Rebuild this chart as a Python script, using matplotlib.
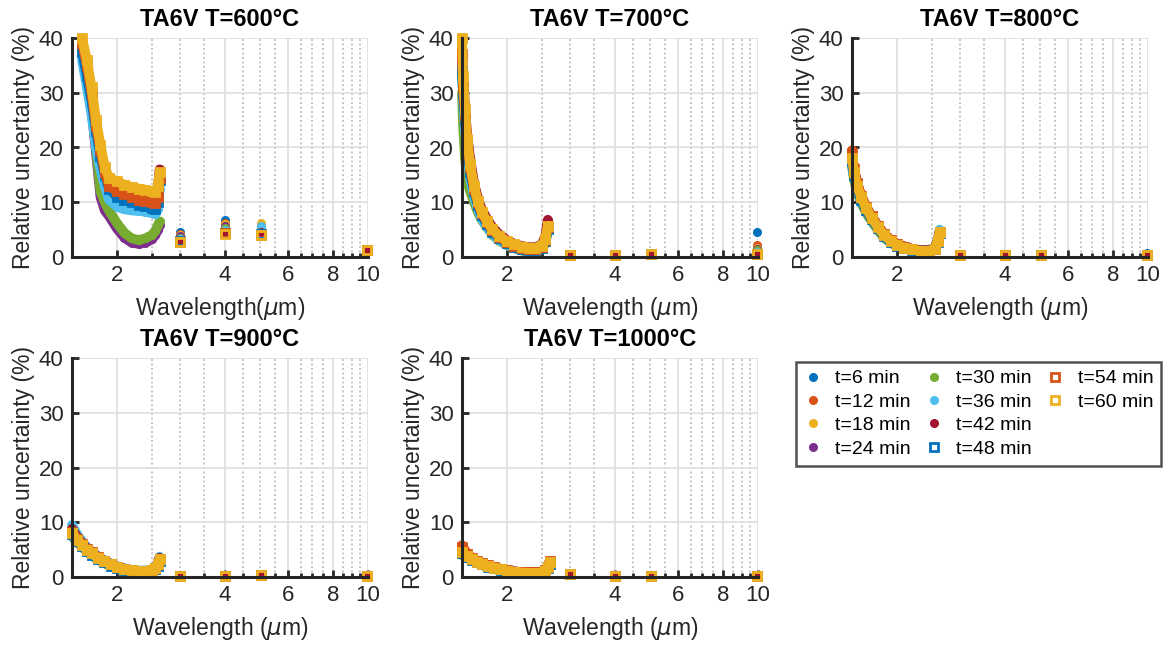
import numpy as np
import matplotlib.pyplot as plt
from matplotlib.lines import Line2D
from matplotlib.ticker import FixedLocator, NullFormatter

plt.rcParams['font.family'] = ['Liberation Sans', 'DejaVu Sans']
plt.rcParams['mathtext.fontset'] = 'dejavusans'

# --- data ---
times = [6, 12, 18, 24, 30, 36, 42, 48, 54, 60]
temps = [600, 700, 800, 900, 1000]
lam_disc = [3.0, 4.0, 5.05, 9.95]

lam600 = [1.6, 1.65, 1.7, 1.75, 1.8, 1.85, 1.9, 2.0, 2.1, 2.2, 2.3, 2.4, 2.5, 2.56, 2.6, 2.63]
u600 = [
    [37, 32, 27, 22, 18, 14.5, 12, 10.5, 9.8, 9.3, 9.0, 8.8, 8.5, 8.3, 9.5, 13.5],
    [38, 34, 29, 23, 19, 15, 12.5, 11.5, 11, 10.5, 10, 9.8, 9.5, 9.3, 10.5, 14],
    [39, 35, 30, 24.5, 20, 16, 14, 13, 12.5, 12.2, 11.8, 11.5, 11.5, 11.3, 12.5, 15],
    [38, 33, 27, 19, 11, 8.5, 7.5, 5.2, 3.5, 2.6, 2.4, 2.6, 3.2, 4.0, 5.0, 5.8],
    [38, 33, 27, 20, 12, 10, 8.5, 6.2, 4.4, 3.4, 3.1, 3.4, 4.0, 4.8, 5.8, 6.5],
    [36, 31, 26, 20, 16, 13, 10.5, 9.2, 8.7, 8.5, 8.4, 8.3, 8.0, 7.8, 8.8, 12.5],
    [39, 34, 29, 24, 19.5, 15.5, 13.5, 12.5, 12, 11.7, 11.3, 11, 11, 10.8, 12.5, 16],
    [37.5, 33, 28.5, 23, 18.5, 15, 12.5, 11, 10.5, 10, 9.5, 9.3, 9, 8.8, 10, 14],
    [39, 35, 30, 24, 19.5, 15.5, 13, 12, 11.5, 11, 10.5, 10.2, 10, 9.8, 11, 14.5],
    [40, 36, 31, 25, 20.5, 16.5, 14.5, 13.8, 13.2, 12.8, 12.5, 12.2, 12, 11.8, 13, 15.5],
]
d600 = [
    [4.5, 6.8, 5.0, 1.5], [4.2, 6.3, 5.8, 1.4], [4.0, 6.0, 6.3, 1.4],
    [3.8, 5.6, 5.5, 1.4], [3.5, 5.3, 5.3, 1.4], [3.3, 5.0, 5.6, 1.3],
    [3.0, 4.6, 4.6, 1.3], [2.9, 4.4, 4.2, 1.3], [2.8, 4.3, 4.1, 1.3],
    [2.7, 4.2, 4.0, 1.3],
]

lam700 = [1.5, 1.51, 1.53, 1.55, 1.58, 1.62, 1.66, 1.7, 1.76, 1.82, 1.9, 2.0, 2.1, 2.2, 2.3, 2.4, 2.5, 2.56, 2.6]
u700 = [
    [34, 30, 24, 19, 15, 11.5, 9, 7.2, 5.6, 4.2, 3.1, 2.2, 1.6, 1.2, 1.0, 1.0, 1.4, 2.6, 5.0],
    [38, 31, 25, 20.5, 16, 12, 9.6, 7.8, 6.2, 4.8, 3.6, 2.6, 2.0, 1.6, 1.4, 1.4, 1.8, 3.0, 5.4],
    [39, 32, 26, 21, 16.5, 12.5, 10, 8.2, 6.5, 5.0, 3.8, 2.8, 2.2, 1.8, 1.6, 1.6, 2.0, 3.2, 5.6],
    [36, 31, 25, 20, 15.5, 12, 9.5, 7.6, 6, 4.6, 3.4, 2.5, 1.9, 1.5, 1.3, 1.3, 1.7, 2.9, 5.3],
    [30, 24, 18, 14, 12, 10, 8.2, 6.8, 5.4, 4.1, 3.0, 2.2, 1.6, 1.2, 1.0, 1.0, 1.4, 2.5, 4.8],
    [35, 29, 23, 18.5, 14.5, 11, 8.8, 7, 5.5, 4.2, 3.1, 2.3, 1.7, 1.3, 1.1, 1.1, 1.5, 2.7, 5.0],
    [38, 33, 27, 22.5, 18, 13.5, 10.8, 8.8, 7, 5.5, 4.2, 3.1, 2.4, 2.0, 1.8, 1.8, 2.3, 3.8, 6.8],
    [34, 30, 25, 20, 15.5, 12, 9.5, 7.6, 6, 4.6, 3.5, 2.5, 1.9, 1.5, 1.3, 1.3, 1.7, 2.9, 5.2],
    [37, 31, 26, 21, 16.5, 12.5, 10, 8, 6.4, 4.9, 3.7, 2.7, 2.1, 1.7, 1.5, 1.5, 1.9, 3.1, 5.5],
    [40, 33, 27, 21.5, 17, 13, 10.2, 8.3, 6.6, 5.1, 3.9, 2.9, 2.3, 1.9, 1.7, 1.7, 2.1, 3.3, 5.7],
]
d700 = [
    [0.5, 0.3, 0.6, 4.5], [0.5, 0.3, 0.6, 2.2], [0.5, 0.3, 0.6, 1.6],
    [0.4, 0.3, 0.5, 1.4], [0.4, 0.3, 0.5, 1.2], [0.4, 0.3, 0.5, 1.0],
    [0.4, 0.3, 0.5, 0.6], [0.4, 0.3, 0.5, 0.6], [0.4, 0.3, 0.5, 0.6],
    [0.4, 0.3, 0.5, 0.6],
]

lam800 = [1.5, 1.52, 1.55, 1.59, 1.64, 1.7, 1.77, 1.84, 1.92, 2.0, 2.1, 2.2, 2.33, 2.45, 2.55, 2.6, 2.63]
u800 = [
    [17, 14.5, 12, 10, 8.2, 6.6, 5.0, 3.6, 2.6, 2.0, 1.6, 1.3, 1.2, 1.3, 1.6, 2.8, 4.2],
    [19.5, 16, 13.5, 11.3, 9.3, 7.5, 5.8, 4.3, 3.2, 2.4, 1.9, 1.5, 1.2, 1.2, 1.5, 3.0, 4.5],
    [18, 15.5, 13, 11, 9, 7.2, 5.5, 4.0, 3.0, 2.3, 1.8, 1.4, 1.1, 1.1, 1.5, 3.0, 4.5],
    [17.5, 15, 12.5, 10.5, 8.6, 6.9, 5.3, 3.8, 2.8, 2.1, 1.6, 1.3, 1.0, 1.0, 1.4, 2.8, 4.3],
    [16.5, 14, 12, 10, 8.2, 6.6, 5.0, 3.6, 2.7, 2.0, 1.5, 1.2, 1.0, 1.0, 1.3, 2.7, 4.2],
    [17, 14.5, 12.5, 10.5, 8.7, 7, 5.4, 3.9, 2.9, 2.2, 1.7, 1.4, 1.1, 1.1, 1.6, 3.3, 5.0],
    [18.5, 16, 13.5, 11.2, 9.2, 7.4, 5.7, 4.2, 3.1, 2.4, 1.9, 1.5, 1.2, 1.2, 1.6, 3.1, 4.6],
    [17.5, 15, 12.5, 10.5, 8.6, 6.9, 5.3, 3.8, 2.8, 2.1, 1.6, 1.3, 1.0, 1.0, 1.4, 2.8, 4.3],
    [19, 16, 13.5, 11.2, 9.2, 7.4, 5.7, 4.2, 3.1, 2.3, 1.8, 1.4, 1.1, 1.1, 1.5, 3.0, 4.5],
    [18, 15.5, 13, 11, 9, 7.2, 5.5, 4.0, 3.0, 2.2, 1.7, 1.4, 1.1, 1.1, 1.5, 3.0, 4.5],
]
d800 = [[0.4, 0.4, 0.3, 0.8]] + [[0.4, 0.4, 0.3, 0.4]] * 9

lam900 = [1.5, 1.55, 1.6, 1.65, 1.7, 1.77, 1.84, 1.92, 2.0, 2.1, 2.2, 2.3, 2.4, 2.5, 2.56, 2.6, 2.63]
u900 = [
    [7.5, 6.4, 5.5, 4.7, 4.0, 3.2, 2.6, 2.0, 1.5, 1.1, 0.9, 0.8, 0.8, 0.9, 1.3, 2.0, 2.9],
    [8.3, 7.0, 6.0, 5.2, 4.5, 3.6, 3.0, 2.4, 1.9, 1.5, 1.2, 1.1, 1.1, 1.2, 1.6, 2.3, 3.2],
    [8, 6.8, 5.8, 5.0, 4.3, 3.5, 2.9, 2.3, 1.8, 1.4, 1.2, 1.1, 1.1, 1.2, 1.6, 2.3, 3.2],
    [7.8, 6.6, 5.6, 4.8, 4.1, 3.3, 2.7, 2.1, 1.6, 1.2, 1.0, 0.9, 0.9, 1.0, 1.4, 2.1, 3.0],
    [7.6, 6.5, 5.5, 4.7, 4.0, 3.2, 2.6, 2.0, 1.5, 1.1, 0.9, 0.8, 0.8, 0.9, 1.3, 2.0, 2.9],
    [9.5, 7.8, 6.5, 5.5, 4.7, 3.8, 3.1, 2.5, 2.0, 1.6, 1.3, 1.2, 1.2, 1.3, 1.8, 2.6, 3.7],
    [8.8, 7.3, 6.2, 5.3, 4.6, 3.7, 3.0, 2.4, 1.9, 1.5, 1.2, 1.1, 1.1, 1.2, 1.7, 2.5, 3.5],
    [7.8, 6.6, 5.6, 4.8, 4.1, 3.3, 2.7, 2.1, 1.6, 1.2, 1.0, 0.9, 0.9, 1.0, 1.4, 2.1, 3.0],
    [8.3, 7.0, 6.0, 5.2, 4.5, 3.6, 3.0, 2.4, 1.9, 1.5, 1.2, 1.1, 1.1, 1.2, 1.6, 2.3, 3.2],
    [8, 6.8, 5.8, 5.0, 4.3, 3.5, 2.9, 2.3, 1.8, 1.4, 1.2, 1.1, 1.1, 1.2, 1.6, 2.3, 3.2],
]
d900 = [[0.2, 0.2, 0.3, 0.15]] + [[0.2, 0.2, 0.3, 0.1]] * 9

lam1000 = [1.5, 1.55, 1.6, 1.65, 1.7, 1.77, 1.84, 1.92, 2.0, 2.1, 2.2, 2.3, 2.4, 2.5, 2.56, 2.6, 2.63]
u1000 = [
    [4.2, 3.5, 3.0, 2.6, 2.2, 1.8, 1.5, 1.2, 0.9, 0.7, 0.6, 0.55, 0.55, 0.6, 0.9, 1.5, 2.3],
    [5.8, 4.3, 3.5, 3.0, 2.6, 2.2, 1.8, 1.5, 1.2, 1.0, 0.9, 0.85, 0.85, 0.9, 1.2, 1.9, 2.8],
    [4.5, 3.8, 3.2, 2.8, 2.4, 2.0, 1.7, 1.4, 1.1, 0.9, 0.8, 0.75, 0.75, 0.8, 1.1, 1.8, 2.6],
    [4.3, 3.6, 3.1, 2.7, 2.3, 1.9, 1.6, 1.3, 1.0, 0.8, 0.7, 0.65, 0.65, 0.7, 1.0, 1.6, 2.4],
    [4.1, 3.5, 3.0, 2.6, 2.2, 1.8, 1.5, 1.2, 0.9, 0.7, 0.6, 0.55, 0.55, 0.6, 0.9, 1.5, 2.3],
    [4.6, 3.9, 3.3, 2.9, 2.5, 2.1, 1.8, 1.5, 1.2, 1.0, 0.9, 0.85, 0.85, 0.9, 1.2, 1.9, 2.8],
    [5.2, 4.1, 3.4, 2.9, 2.5, 2.1, 1.8, 1.5, 1.2, 1.0, 0.9, 0.8, 0.8, 0.9, 1.2, 1.9, 2.7],
    [4.3, 3.6, 3.1, 2.7, 2.3, 1.9, 1.6, 1.3, 1.0, 0.8, 0.7, 0.65, 0.65, 0.7, 1.0, 1.6, 2.4],
    [5.5, 4.2, 3.5, 3.0, 2.6, 2.2, 1.8, 1.5, 1.2, 1.0, 0.9, 0.85, 0.85, 0.9, 1.2, 1.9, 2.9],
    [4.5, 3.8, 3.2, 2.8, 2.4, 2.0, 1.7, 1.4, 1.1, 0.9, 0.8, 0.75, 0.75, 0.8, 1.1, 1.8, 2.7],
]
d1000 = [[0.5, 0.2, 0.2, 0.1]] * 10

lams = [lam600, lam700, lam800, lam900, lam1000]
bands = [u600, u700, u800, u900, u1000]
discs = [d600, d700, d800, d900, d1000]
xlabels = ['Wavelength($\\mu$m)'] + ['Wavelength ($\\mu$m)'] * 4

# matlab default colours, last three repeated as open squares
colors = ['#0072BD', '#D95319', '#EDB120', '#7E2F8E', '#77AC30',
          '#4DBEEE', '#A2142F', '#0072BD', '#D95319', '#EDB120']

fig = plt.figure(figsize=(11.64, 6.46), dpi=100)
W, H = 1164, 646
pos = [(72, 38), (462, 38), (852, 38), (72, 358), (462, 358)]
aw, ah = 296, 219

handles = []
for k, (x0, y0) in enumerate(pos):
    ax = fig.add_axes([x0 / W, 1 - (y0 + ah) / H, aw / W, ah / H])
    ax.set_xscale('log')
    for i, t in enumerate(times):
        c = colors[i]
        ax.plot(lams[k], bands[k][i], '-', color=c, lw=7,
                solid_capstyle='round', solid_joinstyle='round',
                clip_on=False, zorder=2 + i)
        if i < 7:
            mk = dict(marker='o', ms=5.5, mfc=c, mec=c)
        else:
            mk = dict(marker='s', ms=6, mfc='none', mec=c, mew=2)
        h, = ax.plot(lams[k], bands[k][i], ls='none', clip_on=False,
                     zorder=2 + i, label=f't={t} min', **mk)
        ax.plot(lam_disc, discs[k][i], ls='none', clip_on=False,
                zorder=2 + i, **mk)
        if k == 0:
            handles.append(h)

    ax.set_xlim(1.5, 10)
    ax.set_ylim(0, 40)
    ax.xaxis.set_major_locator(FixedLocator([2, 4, 6, 8, 10]))
    ax.set_xticklabels(['2', '4', '6', '8', '10'])
    ax.xaxis.set_minor_locator(FixedLocator(
        [2.5, 3, 3.5, 4.5, 5, 5.5, 6.5, 7, 7.5, 8.5, 9, 9.5]))
    ax.xaxis.set_minor_formatter(NullFormatter())
    ax.set_yticks([0, 10, 20, 30, 40])
    ax.grid(True, which='major', color='#dedede', lw=1.2, zorder=0)
    ax.grid(True, which='minor', axis='x', color='#bdbdbd', lw=1.2,
            ls=(0, (1.2, 1.5)), zorder=0)
    ax.set_axisbelow(True)
    for s in ['top', 'right']:
        ax.spines[s].set_visible(False)
    for s in ['left', 'bottom']:
        ax.spines[s].set_linewidth(2.2)
        ax.spines[s].set_color('#262626')
        ax.spines[s].set_zorder(20)
    ax.tick_params(which='major', direction='in', length=5, width=2,
                   color='#262626', labelsize=16, labelcolor='#262626', pad=6)
    ax.tick_params(which='minor', direction='in', length=3, width=2,
                   color='#262626')
    ax.set_xlabel(xlabels[k], fontsize=16.5, color='#262626', labelpad=6)
    ax.set_ylabel('Relative uncertainty (%)', fontsize=16.5,
                  color='#262626', labelpad=3)
    ax.set_title(f'TA6V T={temps[k]}°C', fontsize=17, fontweight='bold',
                 pad=9)

# two empty slots so the columns fill 4 / 4 / 2 as in the original
blank = Line2D([], [], ls='none', marker='none')
leg = fig.legend(handles=handles + [blank, blank],
                 labels=[f't={t} min' for t in times] + ['', ''],
                 ncol=3, loc='upper left',
                 bbox_to_anchor=(796 / W, 1 - 362 / H), fontsize=14,
                 frameon=True, fancybox=False, edgecolor='#262626',
                 handlelength=0.9, handletextpad=0.7, columnspacing=0.75,
                 labelspacing=0.3, borderpad=0.4, borderaxespad=0)
leg.get_frame().set_linewidth(1.8)

fig.savefig('out.png', dpi=100)
